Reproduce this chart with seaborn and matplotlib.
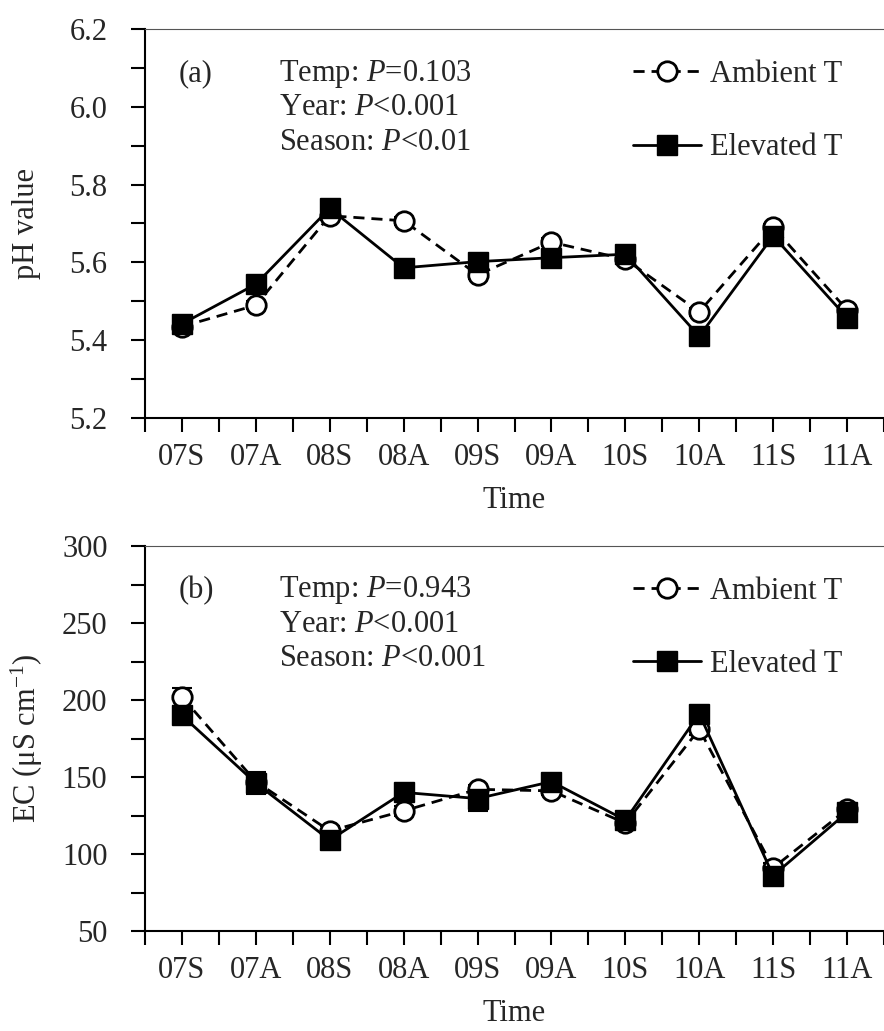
import numpy as np
import pandas as pd
import matplotlib
matplotlib.use("Agg")
import matplotlib.pyplot as plt
import seaborn as sns
from matplotlib.ticker import MultipleLocator, FixedLocator, FormatStrFormatter

# ---------------- data ----------------
categories = ["07S", "07A", "08S", "08A", "09S", "09A", "10S", "10A", "11S", "11A"]

ph_ambient = [5.435, 5.490, 5.720, 5.707, 5.568, 5.652, 5.608, 5.473, 5.690, 5.478]
ph_ambient_se = [0.01, 0.01, 0.01, 0.01, 0.01, 0.01, 0.01, 0.01, 0.01, 0.01]
ph_elevated = [5.442, 5.544, 5.739, 5.586, 5.602, 5.612, 5.621, 5.410, 5.668, 5.458]
ph_elevated_se = [0.01, 0.01, 0.01, 0.01, 0.01, 0.01, 0.01, 0.01, 0.01, 0.01]

ec_ambient = [202, 147, 115, 128, 142, 141, 120, 181, 91, 129]
ec_ambient_se = [6, 4, 3, 3, 3, 3, 3, 4, 3, 3]
ec_elevated = [190, 146, 109, 140, 136, 147, 122, 191, 86, 127]
ec_elevated_se = [4, 7, 3, 3, 8, 4, 3, 4, 3, 3]

series_labels = ["Ambient T", "Elevated T"]
panel_tags = ["(a)", "(b)"]
stats_a = ["Temp: $P$=0.103", "Year: $P$<0.001", "Season: $P$<0.01"]
stats_b = ["Temp: $P$=0.943", "Year: $P$<0.001", "Season: $P$<0.001"]

# ---------------- style ----------------
sns.set_style("ticks")
plt.rcParams["font.family"] = ["Liberation Serif", "DejaVu Serif"]
plt.rcParams["mathtext.fontset"] = "custom"
plt.rcParams["mathtext.rm"] = "Liberation Serif"
plt.rcParams["mathtext.it"] = "Liberation Serif:italic"
plt.rcParams["font.size"] = 22

FS = 22
W, H = 884, 1031
fig = plt.figure(figsize=(W / 100, H / 100), dpi=100)
ax1 = fig.add_axes([145 / W, 1 - 418 / H, 739 / W, 389 / H])
ax2 = fig.add_axes([145 / W, 1 - 931 / H, 739 / W, 385 / H])


def draw_panel(ax, amb, amb_se, ele, ele_se, ylim, major, minor, fmt, ylabel, tag, stats):
    n = len(categories)
    x = np.arange(1, n + 1)
    df = pd.DataFrame({
        "x": np.concatenate([x, x]),
        "value": list(amb) + list(ele),
        "Treatment": [series_labels[0]] * n + [series_labels[1]] * n,
    })
    ax.errorbar(x, amb, yerr=amb_se, fmt="none", ecolor="black", elinewidth=1.5,
                capsize=7, capthick=1.5, zorder=2)
    ax.errorbar(x, ele, yerr=ele_se, fmt="none", ecolor="black", elinewidth=1.5,
                capsize=7, capthick=1.5, zorder=2)
    sns.lineplot(data=df[df.Treatment == series_labels[0]], x="x", y="value", ax=ax,
                 color="black", linestyle=(0, (4, 2.5)), linewidth=2, marker="o",
                 markersize=14, markerfacecolor="white", markeredgecolor="black",
                 markeredgewidth=2, label=series_labels[0], errorbar=None, zorder=3)
    sns.lineplot(data=df[df.Treatment == series_labels[1]], x="x", y="value", ax=ax,
                 color="black", linestyle="-", linewidth=2, marker="s",
                 markersize=15, markerfacecolor="black", markeredgecolor="black",
                 markeredgewidth=1, label=series_labels[1], errorbar=None, zorder=4)

    ax.set_xlim(0.5, n + 0.5)
    ax.set_xticks(x)
    ax.set_xticklabels(categories)
    ax.xaxis.set_minor_locator(FixedLocator(np.arange(0.5, n + 1, 1.0)))
    ax.set_ylim(*ylim)
    ax.yaxis.set_major_locator(MultipleLocator(major))
    ax.yaxis.set_minor_locator(MultipleLocator(minor))
    ax.yaxis.set_major_formatter(FormatStrFormatter(fmt))

    ax.tick_params(axis="both", which="both", direction="out", length=10, width=1.5,
                   color="black", labelsize=FS)
    ax.tick_params(axis="y", which="major", pad=17)
    ax.tick_params(axis="x", which="major", pad=8)

    for side in ["left", "bottom"]:
        ax.spines[side].set_linewidth(1.5)
        ax.spines[side].set_color("black")
    ax.spines["top"].set_linewidth(0.8)
    ax.spines["top"].set_color("#555555")
    ax.spines["right"].set_visible(False)

    ax.set_xlabel("Time", fontsize=FS)
    ax.xaxis.label.set_va("center")
    ax.xaxis.set_label_coords(0.5, -0.213)
    ax.set_ylabel(ylabel, fontsize=FS)
    ax.yaxis.label.set_va("center")
    ax.yaxis.set_label_coords(-0.160, 0.5)

    ax.text(0.046, 0.885, tag, transform=ax.transAxes, va="center", ha="left", fontsize=FS)
    for i, s in enumerate(stats):
        ax.text(0.181, 0.885 - i * 0.088, s, transform=ax.transAxes, va="center",
                ha="left", fontsize=FS)

    handles, labels = ax.get_legend_handles_labels()
    ax.legend(handles, labels, loc="upper left", bbox_to_anchor=(0.661, 0.92),
              frameon=False, fontsize=FS, handlelength=2.2, handletextpad=0.3,
              labelspacing=1.45, borderpad=0, borderaxespad=0)


draw_panel(ax1, ph_ambient, ph_ambient_se, ph_elevated, ph_elevated_se,
           (5.2, 6.2), 0.2, 0.1, "%.1f", "pH value", panel_tags[0], stats_a)
draw_panel(ax2, ec_ambient, ec_ambient_se, ec_elevated, ec_elevated_se,
           (50, 300), 50, 25, "%d", "EC (μS cm$^{\\mathregular{-1}}$)", panel_tags[1], stats_b)

fig.savefig("out.png", dpi=100)
